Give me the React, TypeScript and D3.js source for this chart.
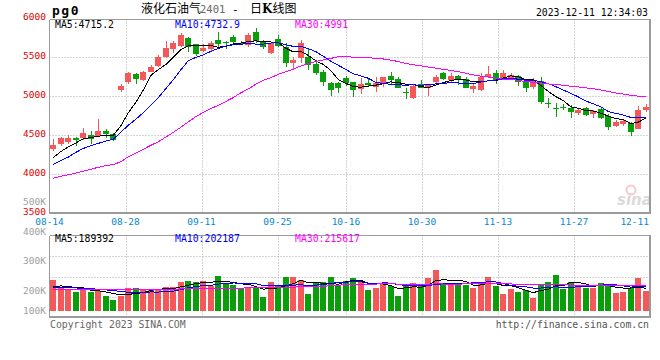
import React from "react";
import * as d3 from "d3";

// ---------- data ----------
const dates: string[] = [
  "08-14","08-15","08-16","08-17","08-18","08-21","08-22","08-23","08-24","08-25","08-28","08-29","08-30","08-31",
  "09-01","09-04","09-05","09-06","09-07","09-08","09-11","09-12","09-13","09-14","09-15","09-18","09-19","09-20","09-21","09-22","09-25","09-26","09-27","09-28",
  "10-09","10-10","10-11","10-12","10-13","10-16","10-17","10-18","10-19","10-20","10-23","10-24","10-25","10-26","10-27","10-30","10-31",
  "11-01","11-02","11-03","11-06","11-07","11-08","11-09","11-10","11-13","11-14","11-15","11-16","11-17","11-20","11-21","11-22","11-23","11-24","11-27","11-28","11-29","11-30",
  "12-01","12-04","12-05","12-06","12-07","12-08","12-11",
];

const openPrices: number[] = [
  4325,4385,4410,4460,4460,4502,4493,4553,4511,5073,
  5175,5277,5204,5310,5387,5502,5598,5640,5737,5668,
  5578,5596,5715,5690,5750,5681,5655,5817,5698,5553,
  5732,5630,5425,5481,5502,5409,5310,5162,5162,5226,
  5175,5086,5166,5119,5166,5252,5217,5055,4978,5149,
  5098,5183,5290,5204,5252,5217,5089,5081,5243,5290,
  5226,5234,5252,5183,5119,5192,4910,4850,4862,4851,
  4779,4851,4766,4834,4748,4621,4642,4651,4579,4821,
];
const highPrices: number[] = [
  4450,4475,4500,4473,4588,4553,4706,4579,4524,5150,
  5303,5290,5319,5400,5520,5702,5700,5800,5753,5668,
  5664,5702,5820,5706,5780,5700,5804,5872,5715,5690,
  5779,5681,5502,5715,5600,5460,5330,5183,5183,5260,
  5183,5226,5217,5247,5243,5307,5243,5102,5149,5200,
  5157,5268,5307,5290,5268,5243,5157,5290,5379,5336,
  5330,5290,5268,5209,5230,5243,4970,4907,4894,4885,
  4843,4864,4821,4864,4766,4694,4706,4672,4876,4894,
];
const lowPrices: number[] = [
  4300,4365,4390,4365,4438,4391,4485,4460,4425,5055,
  5149,5157,5191,5303,5375,5490,5553,5626,5566,5515,
  5566,5566,5630,5596,5664,5650,5630,5672,5596,5540,
  5630,5366,5332,5418,5336,5272,5125,5000,5042,5128,
  4987,5022,5128,5055,5111,5158,5098,4957,4962,5098,
  5004,5166,5200,5183,5140,5098,5034,5064,5234,5157,
  5200,5200,5128,5047,5094,4894,4850,4736,4821,4723,
  4757,4748,4723,4706,4566,4608,4621,4493,4579,4800,
];
const closePrices: number[] = [
  4375,4460,4460,4442,4531,4451,4553,4519,4434,5131,
  5290,5213,5303,5374,5502,5617,5680,5775,5626,5540,
  5609,5673,5664,5685,5690,5664,5783,5698,5630,5673,
  5638,5418,5460,5681,5396,5298,5183,5077,5098,5162,
  5077,5149,5145,5162,5243,5204,5106,5047,5132,5106,
  5157,5247,5217,5252,5204,5106,5132,5243,5277,5209,
  5290,5268,5183,5098,5204,4920,4898,4840,4856,4800,
  4821,4757,4808,4723,4608,4672,4685,4544,4821,4863,
];
const volumes: number[] = [
  262000,191000,176000,162000,182000,162000,170000,125000,91000,125000,
  191000,191000,176000,182000,176000,205000,205000,245000,253000,245000,
  253000,210000,296000,233000,219000,182000,199000,199000,119000,245000,
  210000,287000,287000,262000,142000,233000,245000,287000,219000,253000,
  279000,253000,176000,193000,236000,210000,125000,210000,236000,219000,
  279000,347000,236000,219000,219000,219000,193000,245000,287000,210000,
  142000,185000,159000,176000,108000,228000,245000,304000,185000,245000,
  219000,193000,193000,236000,228000,151000,159000,193000,279000,168000,
];

// moving-average values before a full window exists
const ma5PriceHead: number[] = [4215, 4290, 4350, 4400];
const ma10PriceHead: number[] = [4125, 4175, 4220, 4280, 4330, 4365, 4395, 4425, 4450];
const ma30PriceHead: number[] = [
  3950,3975,3995,4015,4040,4065,4090,4110,4125,4160,4225,4270,4320,4370,4416,
  4475,4535,4600,4670,4736,4790,4840,4880,4930,4980,5040,5090,5150,5200,
];
const ma5VolHead: number[] = [205000, 211000, 206000, 198000];
const ma10VolHead: number[] = [200000,199000,197000,194000,191000,187000,183000,177000,171000];
const ma30VolHead: number[] = [
  183000,183000,182000,182000,181000,181000,180000,180000,179000,179000,179000,180000,180000,181000,182000,
  183000,184000,185000,186000,187000,188000,189000,190000,191000,192000,193000,194000,195000,195500,
];

const priceTicks: number[] = [3500, 4000, 4500, 5000, 5500, 6000];
const volTicks: number[] = [100000, 200000, 300000, 400000, 500000];
const volTickLabels: string[] = ["100K", "200K", "300K", "400K", "500K"];
const dateTicks: string[] = ["08-14","08-28","09-11","09-25","10-16","10-30","11-13","11-27","12-11"];

const priceLegend: string[] = ["MA5:4715.2", "MA10:4732.9", "MA30:4991"];
const volLegend: string[] = ["MA5:189392", "MA10:202187", "MA30:215617"];
const legendColors: string[] = ["#000000", "#0000ff", "#ff00ff"];

const RED = "#f55858";
const GREEN = "#0a9f0a";
const MONO = "'DejaVu Sans Mono', 'Liberation Mono', monospace";

function movingAverage(vals: number[], win: number, head: number[]): number[] {
  return vals.map((_, i) => (i >= win - 1 ? (d3.mean(vals.slice(i - win + 1, i + 1)) as number) : head[i]));
}

export default function App() {
  const n = dates.length;
  const idx = d3.range(n);
  const left = 49.5, right = 649.5;
  const pTop = 19.5, pBottom = 213.5;
  const vTop = 235.5, vBottom = 317.5;

  const x = d3.scaleBand<number>().domain(idx).range([left, right]).paddingInner(0.2).paddingOuter(0.1);
  const xc = (i: number) => (x(i) as number) + x.bandwidth() / 2;
  const xGrid = d3.scaleLinear().domain([0, n - 1]).range([left, 650]);
  const yP = d3.scaleLinear().domain([3500, 6000]).range([213.5, 17.7]);
  const yV = d3.scaleLinear().domain([0, 645000]).range([310.7, 235]);
  const yVLabel = d3.scaleLinear().domain([200000, 500000]).range([290.5, 201.5]);

  const priceMAs = [
    movingAverage(closePrices, 5, ma5PriceHead),
    movingAverage(closePrices, 10, ma10PriceHead),
    movingAverage(closePrices, 30, ma30PriceHead),
  ];
  const volMAs = [
    movingAverage(volumes, 5, ma5VolHead),
    movingAverage(volumes, 10, ma10VolHead),
    movingAverage(volumes, 30, ma30VolHead),
  ];
  const lineP = d3.line<number>().x((_, i) => xc(i)).y((d) => yP(d));
  const lineV = d3.line<number>().x((_, i) => xc(i)).y((d) => yV(d));

  const tickIdx = dateTicks.map((t) => dates.indexOf(t));
  const bw = 6;
  const dash = "1,2";
  const gridColor = "#a8a8a8";
  const borderColor = "#9a9a9a";
  const vGridYs = d3.range(1, 4).map((k) => vTop + (k * (vBottom - vTop)) / 4);
  const axisFs = 9.5;

  return (
    <svg
      width={660}
      height={360}
      style={{ position: "absolute", left: 0, top: 0, background: "#fff" }}
      fontFamily={MONO}
      fontSize={9.8}
    >
      <rect x={0} y={0} width={660} height={360} fill="#fff" />

      {/* header */}
      <text x={52} y={15} fontFamily={MONO} fontWeight="bold" fontSize={13} letterSpacing={1.5} fill="#000">pg0</text>
      <text x={141} y={13} fontFamily="'Noto Sans CJK SC', sans-serif" fontSize={12} fill="#000">液化石油气</text>
      <text x={200} y={13} fontFamily={MONO} fontSize={10.5} fill="#666">2401</text>
      <text x={232} y={13} fontFamily={MONO} fontSize={11} fill="#000">-</text>
      <text x={250} y={13} fontFamily="'Noto Sans CJK SC', sans-serif" fontSize={12} fill="#000">日<tspan fontWeight="bold" fontFamily="'DejaVu Serif', serif">K</tspan>线图</text>
      <text x={648} y={15.5} textAnchor="end" fill="#000">2023-12-11 12:34:03</text>

      {/* price panel grid */}
      {priceTicks.filter((t) => t > 3500 && t < 6000).map((t) => (
        <line key={"pg" + t} x1={left} x2={right} y1={Math.round(yP(t)) + 0.5} y2={Math.round(yP(t)) + 0.5} stroke={gridColor} strokeDasharray={dash} />
      ))}
      {tickIdx.slice(1, -1).map((ti) => (
        <line key={"pv" + ti} x1={Math.round(xGrid(ti)) + 0.5} x2={Math.round(xGrid(ti)) + 0.5} y1={pTop} y2={pBottom} stroke={gridColor} strokeDasharray={dash} />
      ))}
      {/* volume panel grid */}
      {vGridYs.map((gy) => (
        <line key={"vg" + gy} x1={left} x2={right} y1={Math.round(gy) + 0.5} y2={Math.round(gy) + 0.5} stroke={gridColor} strokeDasharray={dash} />
      ))}
      {tickIdx.slice(1, -1).map((ti) => (
        <line key={"vv" + ti} x1={Math.round(xGrid(ti)) + 0.5} x2={Math.round(xGrid(ti)) + 0.5} y1={vTop} y2={vBottom} stroke={gridColor} strokeDasharray={dash} />
      ))}

      {/* sina watermark */}
      <g opacity={0.55}>
        <circle cx={631} cy={190} r={4.5} fill="none" stroke="#f3a0a0" strokeWidth={2} />
        <text x={617} y={205} fontFamily="'DejaVu Sans', sans-serif" fontStyle="italic" fontWeight="bold" fontSize={15} fill="#bdbdbd">sina</text>
      </g>

      {/* candles */}
      {idx.map((i) => {
        const o = openPrices[i], c = closePrices[i], h = highPrices[i], l = lowPrices[i];
        const col = c >= o ? RED : GREEN;
        const bx = Math.round(x(i) as number);
        const top = Math.round(yP(Math.max(o, c)));
        const bot = Math.round(yP(Math.min(o, c)));
        const wt = Math.round(yP(h));
        const wb = Math.round(yP(l));
        return (
          <g key={"c" + i} shapeRendering="crispEdges">
            <rect x={bx + 3} y={wt} width={1} height={Math.max(1, wb - wt)} fill={col} />
            <rect x={bx} y={top} width={bw} height={Math.max(1, bot - top)} fill={col} />
          </g>
        );
      })}

      {/* price MA lines */}
      {priceMAs.map((s, k) => (
        <path key={"pm" + k} d={lineP(s) as string} fill="none" stroke={legendColors[k]} strokeWidth={1} shapeRendering="crispEdges" />
      ))}

      {/* volume bars */}
      {idx.map((i) => {
        const col = closePrices[i] >= openPrices[i] ? RED : GREEN;
        const bx = Math.round(x(i) as number);
        const vy = Math.round(yV(volumes[i]));
        const base = Math.round(yV(0));
        return <rect key={"v" + i} x={bx} y={vy} width={bw} height={base - vy} fill={col} shapeRendering="crispEdges" />;
      })}
      {volMAs.map((s, k) => (
        <path key={"vm" + k} d={lineV(s) as string} fill="none" stroke={legendColors[k]} strokeWidth={1} shapeRendering="crispEdges" />
      ))}

      {/* panel borders */}
      <g shapeRendering="crispEdges">
        <line x1={left} x2={651} y1={pTop} y2={pTop} stroke={borderColor} />
        <line x1={left} x2={left} y1={pTop} y2={pBottom} stroke={borderColor} />
        <line x1={650} x2={650} y1={pTop} y2={pBottom} stroke={borderColor} strokeWidth={2} />
        <line x1={left} x2={651} y1={213} y2={213} stroke={borderColor} strokeWidth={2} />
        <line x1={left} x2={651} y1={vTop} y2={vTop} stroke={borderColor} />
        <line x1={left} x2={left} y1={vTop} y2={vBottom} stroke={borderColor} />
        <line x1={650} x2={650} y1={vTop} y2={vBottom} stroke={borderColor} strokeWidth={2} />
        <line x1={left} x2={651} y1={317} y2={317} stroke={borderColor} strokeWidth={2} />
      </g>

      {/* legends */}
      {priceLegend.map((t, k) => (
        <text key={"pl" + k} x={55 + k * 120} y={27.5} fill={legendColors[k]}>{t}</text>
      ))}
      {volLegend.map((t, k) => (
        <text key={"vl" + k} x={55 + k * 120} y={241.5} fill={legendColors[k]}>{t}</text>
      ))}

      {/* price axis labels */}
      {priceTicks.map((t) => (
        <text key={"pt" + t} x={46} y={yP(t) + 1.8} textAnchor="end" fontSize={axisFs} fill="#e00000">{t}</text>
      ))}
      {/* volume axis labels */}
      {volTicks.map((t, k) => (
        <text key={"vt" + t} x={46} y={Math.min(yVLabel(t), 310) + 3.5} textAnchor="end" fontSize={axisFs} fill="#a0a0a0">{volTickLabels[k]}</text>
      ))}
      {/* date labels */}
      {dateTicks.map((t, k) => {
        const last = k === dateTicks.length - 1;
        return (
          <text key={"dt" + t} x={last ? 649 : xGrid(tickIdx[k])} y={225} textAnchor={last ? "end" : "middle"} fontSize={axisFs} fill="#0a88d0">{t}</text>
        );
      })}

      {/* footer */}
      <text x={50} y={327.5} fill="#666">Copyright 2023 SINA.COM</text>
      <text x={649} y={327.5} textAnchor="end" fill="#555">http://finance.sina.com.cn</text>
    </svg>
  );
}
